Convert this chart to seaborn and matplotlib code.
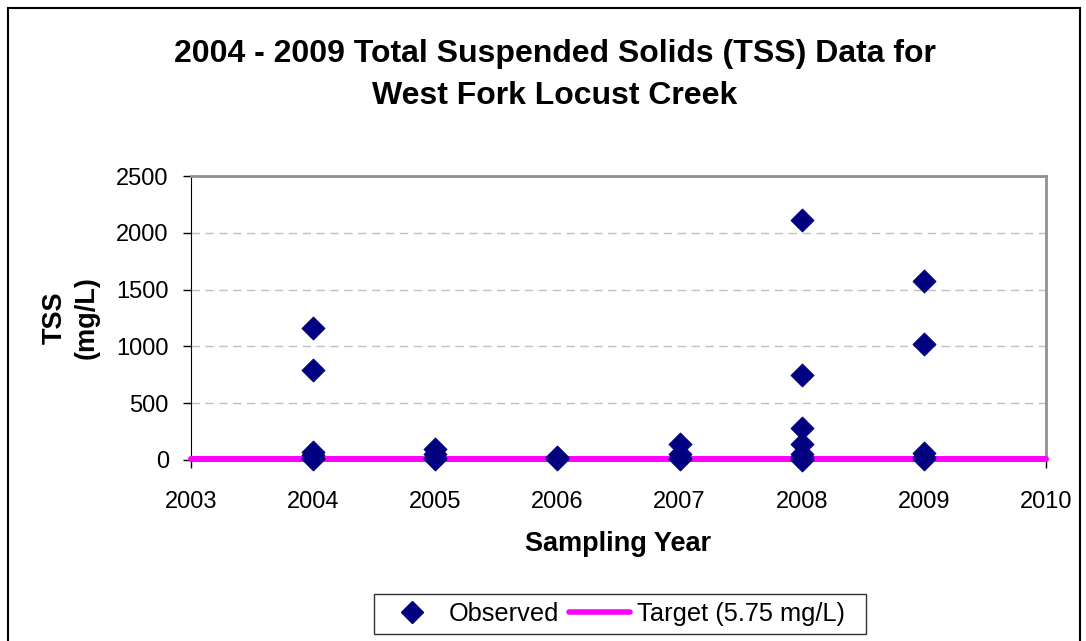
import pandas as pd
import matplotlib
matplotlib.use("Agg")
import matplotlib.pyplot as plt
import seaborn as sns
from matplotlib.patches import Rectangle
from matplotlib.lines import Line2D

years_2004 = [2004] * 6
tss_2004 = [1160, 790, 70, 40, 15, 5]
years_2005 = [2005] * 4
tss_2005 = [100, 50, 20, 5]
years_2006 = [2006] * 3
tss_2006 = [30, 15, 5]
years_2007 = [2007] * 4
tss_2007 = [145, 50, 20, 5]
years_2008 = [2008] * 8
tss_2008 = [2110, 750, 285, 145, 50, 25, 10, 3]
years_2009 = [2009] * 5
tss_2009 = [1580, 1020, 65, 30, 10]

target_value = 5.75
target_years = [2003, 2010]

y_ticks = [0, 500, 1000, 1500, 2000, 2500]
x_ticks = [2003, 2004, 2005, 2006, 2007, 2008, 2009, 2010]

df = pd.DataFrame({
    "year": years_2004 + years_2005 + years_2006 + years_2007 + years_2008 + years_2009,
    "tss": tss_2004 + tss_2005 + tss_2006 + tss_2007 + tss_2008 + tss_2009,
})
target_df = pd.DataFrame({"year": target_years, "tss": [target_value] * len(target_years)})

sns.set_style("white")
plt.rcParams["font.family"] = ["Liberation Sans", "DejaVu Sans"]
plt.rcParams["text.color"] = "black"
plt.rcParams["xtick.color"] = "black"
plt.rcParams["ytick.color"] = "black"
plt.rcParams["axes.labelcolor"] = "black"

fig = plt.figure(figsize=(10.86, 6.41), dpi=100)
ax = fig.add_axes([0.1759, 0.2824, 0.9632 - 0.1759, 0.7254 - 0.2824])

sns.lineplot(data=target_df, x="year", y="tss", ax=ax, color="#FF00FF",
             linewidth=4.3, zorder=4, legend=False, clip_on=False)
sns.scatterplot(data=df, x="year", y="tss", ax=ax, marker="D", s=140,
                color="#000080", edgecolor="#000080", linewidth=0.5, zorder=5,
                legend=False, clip_on=False)

ax.set_xlim(2003, 2010)
ax.set_ylim(0, 2500)
ax.set_xticks(x_ticks)
ax.set_yticks(y_ticks)
ax.tick_params(axis="both", labelsize=17, length=6, width=1, direction="out",
               bottom=True, left=True, color="black")
ax.tick_params(axis="x", pad=16)
ax.tick_params(axis="y", pad=10)
ax.set_xticklabels([str(v) for v in x_ticks])

for v in y_ticks[1:-1]:
    ax.axhline(v, color="#C0C0C0", linestyle=(0, (6, 4)), linewidth=1, zorder=1)

ax.spines["left"].set_color("black")
ax.spines["bottom"].set_color("black")
ax.spines["top"].set_color("#909090")
ax.spines["right"].set_color("#909090")
for side in ["top", "right"]:
    ax.spines[side].set_linewidth(2)

ax.set_xlabel("Sampling Year", fontsize=19.5, fontweight="bold", labelpad=13)
ax.set_ylabel("TSS\n(mg/L)", fontsize=19.5, fontweight="bold", labelpad=12,
              linespacing=1.3)

fig.text(0.511, 0.883, "2004 - 2009 Total Suspended Solids (TSS) Data for\nWest Fork Locust Creek",
         ha="center", va="center", fontsize=23, fontweight="bold", linespacing=1.48)

handles = [
    Line2D([], [], marker="D", linestyle="none", color="#000080", markersize=11),
    Line2D([], [], color="#FF00FF", linewidth=4),
]
leg = fig.legend(handles, ["Observed", "Target (5.75 mg/L)  "], loc="center",
                 bbox_to_anchor=(0.571, 0.042), ncol=2, fontsize=18.3, frameon=True,
                 fancybox=False, edgecolor="black", handlelength=2.4,
                 columnspacing=0.4, handletextpad=0.25, borderpad=0.3,
                 borderaxespad=0)
leg.get_frame().set_linewidth(1)

fig.patches.append(Rectangle((8 / 1086, -0.1), 1072 / 1086, 1 - 8 / 641 + 0.1,
                             transform=fig.transFigure, fill=False,
                             edgecolor="black", linewidth=1.5))

fig.savefig("out.png", dpi=100)
